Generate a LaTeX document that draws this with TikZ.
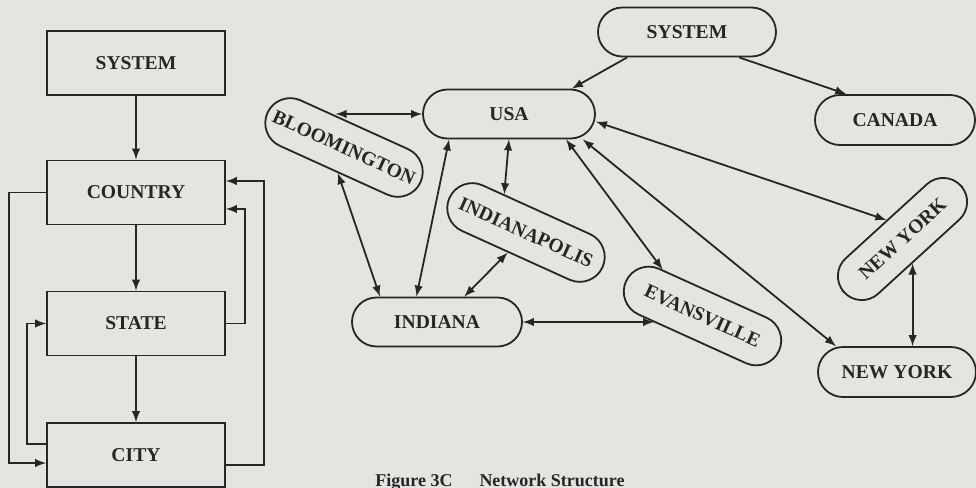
\documentclass[tikz,border=0pt]{standalone}
\usepackage{fontspec}
\setmainfont{Liberation Serif}
\definecolor{paper}{RGB}{228,228,225}
\definecolor{ink}{RGB}{38,38,38}
\tikzset{
  box/.style={draw=ink, rectangle, minimum width=89pt, minimum height=32pt,
    font=\bfseries\fontsize{9.8}{11}\selectfont, text=ink},
  pill/.style={draw=ink, rectangle, rounded corners=12.25pt, inner sep=0pt,
    minimum height=24.5pt, font=\bfseries\fontsize{9.8}{11}\selectfont, text=ink},
  tilted/.style={pill, rounded corners=12.5pt, minimum width=84pt, minimum height=25pt, rotate=-24.4}
}
\begin{document}
\begin{tikzpicture}[x=0.5pt, y=-0.5pt, line width=0.9pt, draw=ink]
        \fill[paper] (0,0) rectangle (976,488);
        \useasboundingbox (0,0) rectangle (976,488);
        % hierarchy
        \node[box] (system) at (136,63) {SYSTEM};
        \node[box] (country) at (136,192.5) {COUNTRY};
        \node[box] (state) at (136,323.5) {STATE};
        \node[box] (city) at (136,455) {CITY};
        \draw[-latex] (system) -- (country);
        \draw[-latex] (country) -- (state);
        \draw[-latex] (state) -- (city);
        \draw[-latex] (country.west) -- ++(-37,0) |- ([yshift=-4pt]city.west);
        \draw[-latex] ([yshift=5.5pt]city.west) -- ++(-19,0) |- (state.west);
        \draw[-latex] (state.east) -- ++(19,0) |- ([yshift=-8.25pt]country.east);
        \draw[-latex] ([yshift=-5pt]city.east) -- ++(38,0) |- ([yshift=5.75pt]country.east);
        % network
        \node[pill, minimum width=89pt] (top) at (687,32) {SYSTEM};
        \node[pill, minimum width=80pt, minimum height=25pt, rounded corners=12.5pt] (canada) at (895,120) {CANADA};
        \node[pill, minimum width=86pt] (usa) at (509,114) {USA};
        \node[tilted] (bloomington) at (344,147.5) {BLOOMINGTON};
        \node[tilted] (indianapolis) at (526,232.5) {INDIANAPOLIS};
        \node[pill, minimum width=85pt] (indiana) at (437,322) {INDIANA};
        \node[tilted] (evansville) at (702.5,316) {EVANSVILLE};
        \node[pill, minimum width=79pt, minimum height=24pt, rounded corners=12pt, rotate=42.4] (nyupper) at (902.5,239) {NEW YORK};
        \node[pill, minimum width=79pt, minimum height=25pt, rounded corners=12.5pt] (nylower) at (897,372) {NEW YORK};
        \draw[-latex] (top.203) -- (usa.22);
        \draw[-latex] (top.-26) -- (canada.152);
        \draw[latex-latex] (usa.west) -- (usa.west -| bloomington.129);
        \draw[latex-latex] (bloomington.-79.5) -- (indiana.156);
        \draw[latex-latex] (usa.203) -- (indiana.129);
        \draw[latex-latex] (usa.south) -- (indianapolis.144);
        \draw[latex-latex] (indianapolis.-108) -- (indiana.43);
        \draw[latex-latex] (indiana.east) -- (indiana.east -| evansville.212);
        \draw[latex-latex] (usa.-24) -- (evansville.155);
        \draw[latex-latex] (usa.-19) -- (nylower.157);
        \draw[latex-latex] (usa.-5) -- (nyupper.88);
        \draw[latex-latex] (nyupper.-110) -- (nyupper.-110 |- nylower.north);
        \node[font=\bfseries\fontsize{9}{11}\selectfont, text=ink, anchor=base] (caption) at (500,486) {Figure 3C\quad\enspace Network Structure};
    \end{tikzpicture}
\end{document}
